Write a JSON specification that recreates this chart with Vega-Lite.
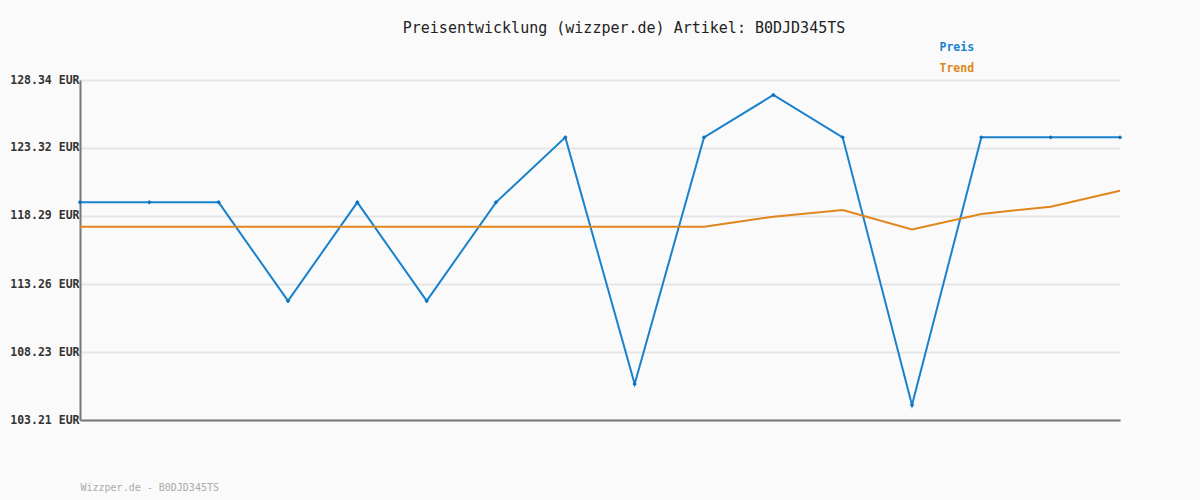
{
  "$schema": "https://vega.github.io/schema/vega-lite/v6.json",
  "width": 1040,
  "height": 340,
  "autosize": {"type": "none"},
  "padding": {"left": 80, "top": 80, "right": 80, "bottom": 80},
  "background": "#fafafa",
  "title": {
    "text": "Preisentwicklung (wizzper.de) Artikel: B0DJD345TS",
    "font": "DejaVu Sans Mono",
    "fontSize": 15,
    "fontWeight": "normal",
    "color": "#222222",
    "anchor": "middle",
    "dx": 24,
    "offset": 6
  },
  "config": {
    "view": {"stroke": null},
    "axis": {"labelFont": "DejaVu Sans Mono", "titleFont": "DejaVu Sans Mono"}
  },
  "data": {
    "values": [
      {"i": 0, "serie": "Preis", "preis": 119.30},
      {"i": 1, "serie": "Preis", "preis": 119.30},
      {"i": 2, "serie": "Preis", "preis": 119.30},
      {"i": 3, "serie": "Preis", "preis": 112.01},
      {"i": 4, "serie": "Preis", "preis": 119.30},
      {"i": 5, "serie": "Preis", "preis": 112.01},
      {"i": 6, "serie": "Preis", "preis": 119.30},
      {"i": 7, "serie": "Preis", "preis": 124.10},
      {"i": 8, "serie": "Preis", "preis": 105.87},
      {"i": 9, "serie": "Preis", "preis": 124.10},
      {"i": 10, "serie": "Preis", "preis": 127.23},
      {"i": 11, "serie": "Preis", "preis": 124.10},
      {"i": 12, "serie": "Preis", "preis": 104.32},
      {"i": 13, "serie": "Preis", "preis": 124.10},
      {"i": 14, "serie": "Preis", "preis": 124.10},
      {"i": 15, "serie": "Preis", "preis": 124.10},
      {"i": 0, "serie": "Trend", "preis": 117.50},
      {"i": 1, "serie": "Trend", "preis": 117.50},
      {"i": 2, "serie": "Trend", "preis": 117.50},
      {"i": 3, "serie": "Trend", "preis": 117.50},
      {"i": 4, "serie": "Trend", "preis": 117.50},
      {"i": 5, "serie": "Trend", "preis": 117.50},
      {"i": 6, "serie": "Trend", "preis": 117.50},
      {"i": 7, "serie": "Trend", "preis": 117.50},
      {"i": 8, "serie": "Trend", "preis": 117.50},
      {"i": 9, "serie": "Trend", "preis": 117.50},
      {"i": 10, "serie": "Trend", "preis": 118.24},
      {"i": 11, "serie": "Trend", "preis": 118.73},
      {"i": 12, "serie": "Trend", "preis": 117.30},
      {"i": 13, "serie": "Trend", "preis": 118.44},
      {"i": 14, "serie": "Trend", "preis": 118.98},
      {"i": 15, "serie": "Trend", "preis": 120.16}
    ]
  },
  "layer": [
    {
      "mark": {"type": "line", "strokeWidth": 2, "clip": false},
      "encoding": {
        "x": {
          "field": "i",
          "type": "quantitative",
          "scale": {"domain": [0, 15], "nice": false, "zero": false},
          "axis": {
            "labels": false,
            "ticks": false,
            "grid": false,
            "domainColor": "#777777",
            "domainWidth": 2,
            "title": "Wizzper.de - B0DJD345TS",
            "titleAnchor": "start",
            "titleFont": "DejaVu Sans Mono",
            "titleFontSize": 10,
            "titleFontWeight": "normal",
            "titleColor": "#aaaaaa",
            "titlePadding": 62
          }
        },
        "y": {
          "field": "preis",
          "type": "quantitative",
          "scale": {"domain": [103.21, 128.34], "nice": false, "zero": false},
          "axis": {
            "values": [103.21, 108.23, 113.26, 118.29, 123.32, 128.34],
            "labelExpr": "format(datum.value, '.2f') + ' EUR'",
            "labelFont": "DejaVu Sans Mono",
            "labelFontSize": 11.5,
            "labelFontWeight": "bold",
            "labelColor": "#333333",
            "labelPadding": 1,
            "ticks": false,
            "grid": true,
            "gridColor": "#e6e6e6",
            "gridWidth": 2,
            "domainColor": "#777777",
            "domainWidth": 2,
            "title": null
          }
        },
        "color": {
          "field": "serie",
          "type": "nominal",
          "scale": {"domain": ["Preis", "Trend"], "range": ["#1a82cc", "#e0861c"]},
          "legend": {
            "orient": "none",
            "legendX": 848,
            "legendY": -38,
            "title": null,
            "symbolSize": 0,
            "symbolStrokeWidth": 0,
            "symbolOpacity": 0,
            "labelOffset": 0,
            "rowPadding": 8,
            "labelFont": "DejaVu Sans Mono",
            "labelFontSize": 11.5,
            "labelFontWeight": "bold",
            "encode": {
              "labels": {"update": {"fill": {"scale": "color", "field": "value"}}}
            }
          }
        }
      }
    },
    {
      "mark": {"type": "point", "shape": "diamond", "filled": true, "size": 20, "opacity": 1},
      "transform": [{"filter": "datum.serie == 'Preis'"}],
      "encoding": {
        "x": {"field": "i", "type": "quantitative"},
        "y": {"field": "preis", "type": "quantitative"},
        "color": {"value": "#0a72c0"}
      }
    }
  ]
}
